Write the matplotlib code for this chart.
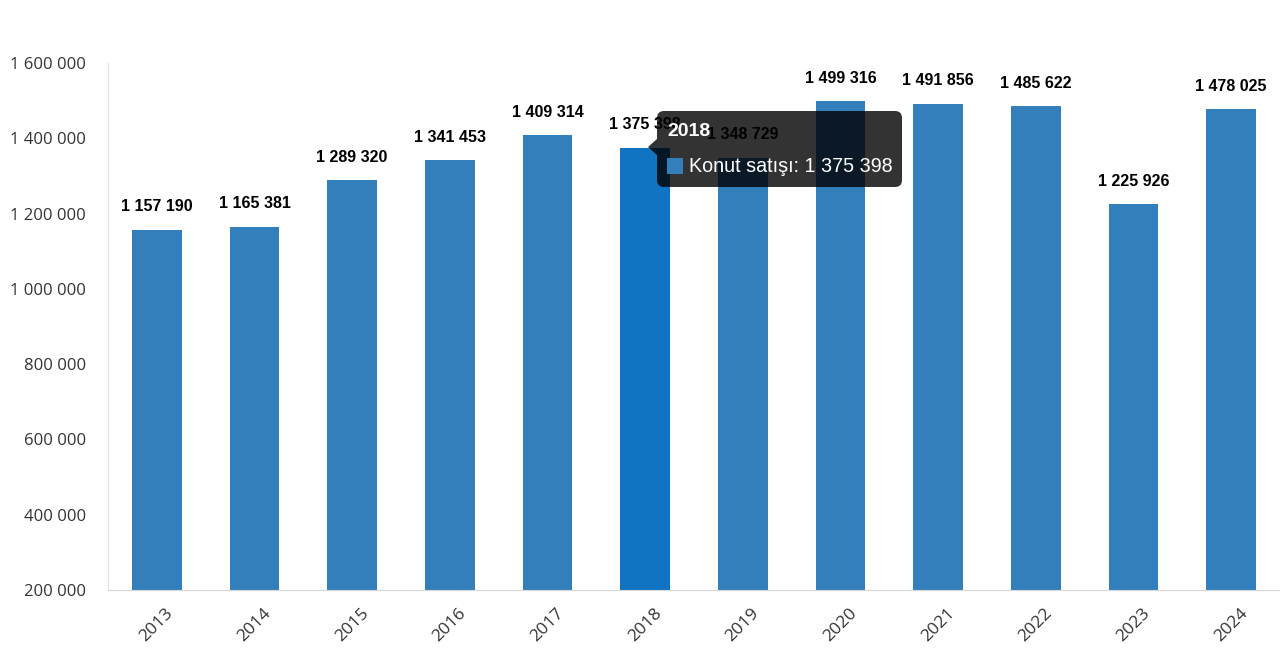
import matplotlib
matplotlib.use("Agg")
import matplotlib.pyplot as plt
from matplotlib.patches import FancyBboxPatch, Polygon, Rectangle

# data
years = ['2013', '2014', '2015', '2016', '2017', '2018',
         '2019', '2020', '2021', '2022', '2023', '2024']
sales = [1157190, 1165381, 1289320, 1341453, 1409314, 1375398,
         1348729, 1499316, 1491856, 1485622, 1225926, 1478025]
series_name = 'Konut satışı'
hover_year = '2018'

bar_color = '#337fbb'
hover_color = '#1074c3'


def fmt(v):
    return f'{v:,}'.replace(',', ' ')


fig = plt.figure(figsize=(12.8, 6.58), dpi=100)
ax = fig.add_axes([108 / 1280, 1 - 590 / 658, 1 - 108 / 1280, (590 - 63) / 658])

x = list(range(len(years)))
colors = [hover_color if y == hover_year else bar_color for y in years]
base = 200000
ax.bar(x, [v - base for v in sales], bottom=base, width=0.51, color=colors, zorder=2)

ax.set_xlim(-0.5, len(years) - 0.5)
ax.set_ylim(200000, 1600000)
ax.set_yticks(range(200000, 1600001, 200000))
ax.set_yticklabels([fmt(t) for t in range(200000, 1600001, 200000)],
                   fontsize=12, family='Open Sans', color='#333333')
ax.set_xticks(x)
ax.set_xticklabels(years, rotation=45, fontsize=12.5, family='Open Sans',
                   color='#333333', ha='center')
ax.tick_params(length=0, pad=11)
ax.tick_params(axis='y', pad=16)
for s in ['top', 'right']:
    ax.spines[s].set_visible(False)
ax.spines['left'].set_color('#e0e0e0')
ax.spines['bottom'].set_color('#d8d8d8')

# tooltip box (pixel coordinates in figure space)
hi = years.index(hover_year)
bx0, by0, bx1, by1 = 657, 658 - 187, 902, 658 - 111
box = FancyBboxPatch((bx0, by0), bx1 - bx0, by1 - by0,
                     boxstyle='round,pad=0,rounding_size=7',
                     transform=None, facecolor='black', alpha=0.8,
                     edgecolor='none', zorder=5)
fig.patches.append(box)
arrow = Polygon([(bx0, 658 - 139), (648, 658 - 147), (bx0, 658 - 155)],
                closed=True, transform=None, facecolor='black', alpha=0.8,
                edgecolor='none', zorder=5)
fig.patches.append(arrow)

# data labels
for i, v in enumerate(sales):
    ax.annotate(fmt(v), (i, v), xytext=(0, 11), textcoords='offset points',
                ha='center', va='bottom', fontsize=11.5, fontweight='bold',
                family='Liberation Sans', color='black', zorder=6)

fig.text(667 / 1280, 1 - 131 / 658, hover_year, fontsize=14, fontweight='bold',
         family='Liberation Sans', color='white', va='center', zorder=7)
fig.patches.append(Rectangle((667, 658 - 174), 16, 16, transform=None,
                             facecolor=bar_color, edgecolor='none', zorder=7))
fig.text(689 / 1280, 1 - 166 / 658, f'{series_name}: {fmt(sales[hi])}',
         fontsize=14.2, family='Liberation Sans', color='white', va='center', zorder=7)

fig.savefig('out.png', dpi=100)
